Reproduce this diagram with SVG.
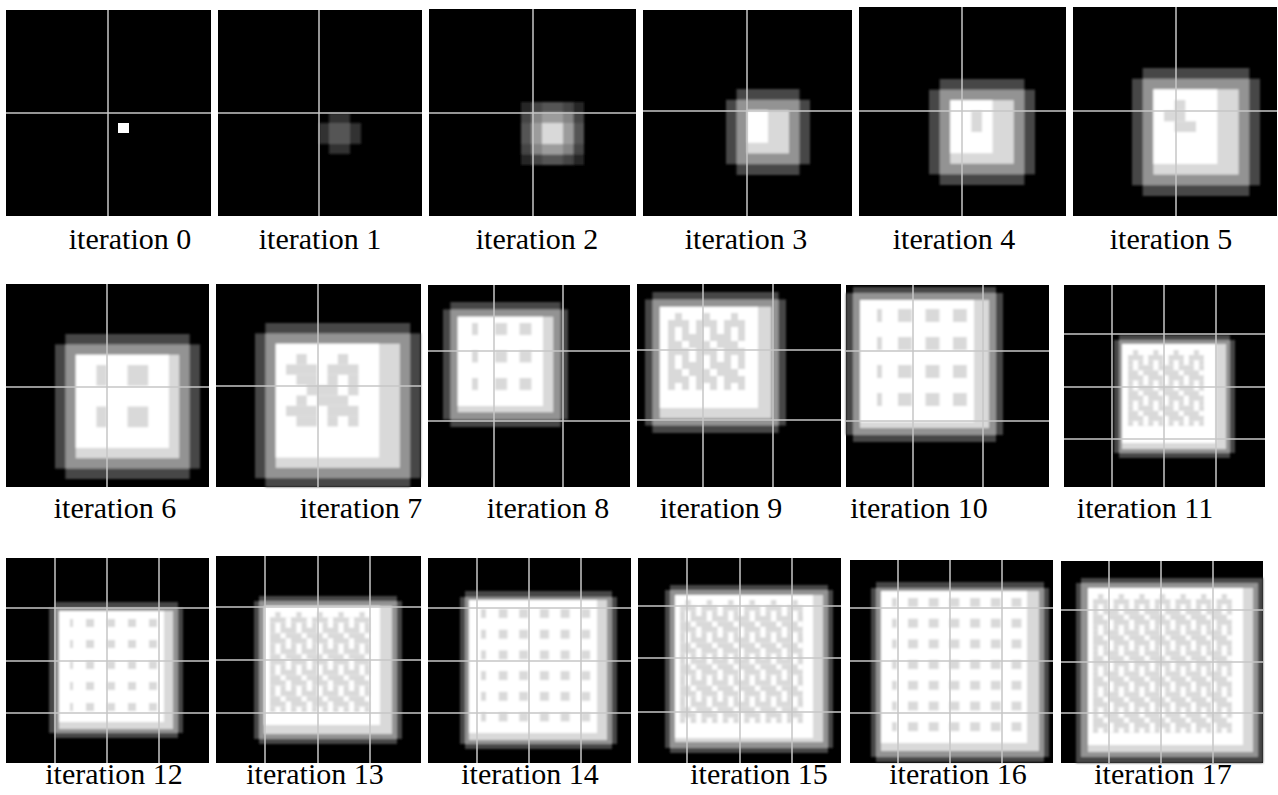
<svg xmlns="http://www.w3.org/2000/svg" width="1278" height="795" viewBox="0 0 1278 795">
<style>
.bg{fill:#000}
.d{fill:#464646}
.m{fill:#939393}
.l{fill:#d9d9d9}
.w{fill:#fff}
.gl{fill:none;stroke:#c6c6c6;stroke-width:1.5}
.lbl{font-size:30px;fill:#000;text-anchor:middle}
</style>
<defs>
<filter id="soft" x="-5%" y="-5%" width="110%" height="110%"><feGaussianBlur stdDeviation="0.8"/></filter>
<g id="weave" fill="#d9d9d9">
<rect x="0" y="0" width="3" height="1"/>
<rect x="0" y="1" width="1" height="1"/><rect x="2" y="1" width="1" height="1"/>
<rect x="0" y="2" width="1" height="1"/><rect x="2" y="2" width="2" height="1"/>
<rect x="0" y="3" width="2" height="1"/><rect x="3" y="3" width="1" height="1"/>
</g>
<rect id="cap" x="1" y="0" width="1" height="1" fill="#d9d9d9"/>
<pattern id="w9" patternUnits="userSpaceOnUse" width="4" height="4" patternTransform="translate(668 320) scale(7)"><use href="#weave"/></pattern>
<pattern id="c9" patternUnits="userSpaceOnUse" width="4" height="1" patternTransform="translate(668 313) scale(7)"><use href="#cap"/></pattern>
<pattern id="w11" patternUnits="userSpaceOnUse" width="4" height="4" patternTransform="translate(1128 355.07) scale(5.07)"><use href="#weave"/></pattern>
<pattern id="c11" patternUnits="userSpaceOnUse" width="4" height="1" patternTransform="translate(1128 350) scale(5.07)"><use href="#cap"/></pattern>
<pattern id="w13" patternUnits="userSpaceOnUse" width="4" height="4" patternTransform="translate(270 617.26) scale(5.26)"><use href="#weave"/></pattern>
<pattern id="c13" patternUnits="userSpaceOnUse" width="4" height="1" patternTransform="translate(270 612) scale(5.26)"><use href="#cap"/></pattern>
<pattern id="w15" patternUnits="userSpaceOnUse" width="4" height="4" patternTransform="translate(680 605.35) scale(5.35)"><use href="#weave"/></pattern>
<pattern id="c15" patternUnits="userSpaceOnUse" width="4" height="1" patternTransform="translate(680 600) scale(5.35)"><use href="#cap"/></pattern>
<pattern id="w17" patternUnits="userSpaceOnUse" width="4" height="4" patternTransform="translate(1093 599.15) scale(5.15)"><use href="#weave"/></pattern>
<pattern id="c17" patternUnits="userSpaceOnUse" width="4" height="1" patternTransform="translate(1093 594) scale(5.15)"><use href="#cap"/></pattern>
<pattern id="g8" patternUnits="userSpaceOnUse" x="495" y="323" width="24.5" height="27.5"><rect width="12" height="12" fill="#d9d9d9"/></pattern>
<pattern id="g10" patternUnits="userSpaceOnUse" x="898" y="309" width="27.5" height="28"><rect width="14" height="13" fill="#d9d9d9"/></pattern>
<pattern id="g12" patternUnits="userSpaceOnUse" x="86" y="619" width="21" height="21"><rect width="8" height="8" fill="#d9d9d9"/></pattern>
<pattern id="g14" patternUnits="userSpaceOnUse" x="498.5" y="609" width="20.7" height="20.7"><rect width="9" height="9" fill="#d9d9d9"/></pattern>
<pattern id="g16" patternUnits="userSpaceOnUse" x="908" y="598" width="20.7" height="20.7"><rect width="10" height="9" fill="#d9d9d9"/></pattern>
</defs>
<rect width="1278" height="795" fill="#fff"/>

<g id="panel-0">
<rect class="bg" x="6" y="10" width="205" height="206"/>
<rect class="w" x="118" y="123" width="11" height="10"/>
<path class="gl" d="M108 10V216M6 113H211"/>
</g>

<g id="panel-1">
<rect class="bg" x="218" y="10" width="204" height="206"/>
<g filter="url(#soft)">
<rect fill="#303030" x="319" y="123" width="42" height="21"/>
<rect fill="#303030" x="329" y="113" width="21" height="41"/>
<rect fill="#555" x="329" y="123" width="21" height="21"/>
</g>
<path class="gl" d="M319 10V216M218 113H422"/>
</g>

<g id="panel-2">
<rect class="bg" x="429" y="9" width="207" height="207"/>
<g filter="url(#soft)">
<rect fill="#262626" x="521" y="102" width="63" height="63"/>
<rect fill="#444" x="531.5" y="102" width="42" height="63"/>
<rect fill="#444" x="521" y="112.5" width="63" height="42"/>
<rect fill="#555" x="542" y="102" width="21" height="63"/>
<rect fill="#555" x="521" y="123" width="63" height="21"/>
<rect fill="#858585" x="531.5" y="112.5" width="42" height="42"/>
<rect fill="#9c9c9c" x="542" y="112.5" width="21" height="42"/>
<rect fill="#9c9c9c" x="531.5" y="123" width="42" height="21"/>
<rect class="l" x="542" y="123" width="21" height="21"/>
</g>
<path class="gl" d="M533 9V216M429 113H636"/>
</g>

<g id="panel-3">
<rect class="bg" x="643" y="10" width="209" height="206"/>
<g filter="url(#soft)">
<rect class="d" x="736.5" y="89" width="63" height="86"/>
<rect class="d" x="726" y="99.75" width="84" height="64.5"/>
<rect class="m" x="736.5" y="99.75" width="63" height="64.5"/>
<rect class="l" x="747" y="110.5" width="42" height="43"/>
<rect class="w" x="747" y="110.5" width="21" height="32.25"/>
</g>
<path class="gl" d="M747 10V216M643 111H852"/>
</g>

<g id="panel-4">
<rect class="bg" x="859" y="7" width="207" height="209"/>
<g filter="url(#soft)">
<rect class="d" x="939.6" y="79" width="84.8" height="106"/>
<rect class="d" x="929" y="89.6" width="106" height="84.8"/>
<rect class="m" x="939.6" y="89.6" width="84.8" height="84.8"/>
<rect class="l" x="950.2" y="100.2" width="63.6" height="63.6"/>
<rect class="w" x="950.2" y="100.2" width="42.4" height="53"/>
<rect class="l" x="971.4" y="110.8" width="10.6" height="21.2"/>
</g>
<path class="gl" d="M962 7V216M859 111H1066"/>
</g>

<g id="panel-5">
<rect class="bg" x="1073" y="7" width="204" height="209"/>
<g filter="url(#soft)">
<rect class="d" x="1142.67" y="68" width="106.67" height="128"/>
<rect class="d" x="1132" y="78.67" width="128" height="106.67"/>
<rect class="m" x="1142.67" y="78.67" width="106.67" height="106.67"/>
<rect class="l" x="1153.33" y="89.33" width="85.33" height="85.33"/>
<rect class="w" x="1153.33" y="89.33" width="64" height="74.67"/>
<rect class="l" x="1174.67" y="100" width="10.67" height="10.67"/>
<rect class="l" x="1164" y="110.67" width="21.33" height="10.67"/>
<rect class="l" x="1174.67" y="121.33" width="21.33" height="10.67"/>
</g>
<path class="gl" d="M1176 7V216M1073 111H1277"/>
</g>

<g id="panel-6">
<rect class="bg" x="6" y="284" width="203" height="203"/>
<g filter="url(#soft)">
<rect class="d" x="65.36" y="334" width="124.29" height="145"/>
<rect class="d" x="55" y="344.36" width="145" height="124.29"/>
<rect class="m" x="65.36" y="344.36" width="124.29" height="124.29"/>
<rect class="l" x="75.71" y="354.71" width="103.57" height="103.57"/>
<rect class="w" x="75.71" y="354.71" width="93.21" height="93.21"/>
<rect class="l" x="96.43" y="365.07" width="10.36" height="20.71"/>
<rect class="l" x="127.5" y="365.07" width="20.71" height="20.71"/>
<rect class="l" x="96.43" y="406.5" width="10.36" height="20.71"/>
<rect class="l" x="127.5" y="406.5" width="20.71" height="20.71"/>
</g>
<path class="gl" d="M107 284V487M6 387H209"/>
</g>

<g id="panel-7">
<rect class="bg" x="216" y="284" width="205" height="203"/>
<g filter="url(#soft)">
<rect class="d" x="265.35" y="323" width="144.9" height="164"/>
<rect class="d" x="255" y="333.35" width="165.6" height="144.9"/>
<rect class="m" x="265.35" y="333.35" width="144.9" height="144.9"/>
<rect class="l" x="275.7" y="343.7" width="124.2" height="124.2"/>
<rect class="w" x="275.7" y="343.7" width="103.5" height="113.85"/>
<g class="l">
<rect x="296.4" y="354.05" width="10.35" height="10.35"/><rect x="337.8" y="354.05" width="10.35" height="10.35"/>
<rect x="286.05" y="364.4" width="31.05" height="10.35"/><rect x="327.45" y="364.4" width="31.05" height="10.35"/>
<rect x="296.4" y="374.75" width="20.7" height="10.35"/><rect x="327.45" y="374.75" width="10.35" height="10.35"/><rect x="348.15" y="374.75" width="10.35" height="10.35"/>
<rect x="306.75" y="385.1" width="31.05" height="10.35"/><rect x="348.15" y="385.1" width="10.35" height="10.35"/>
<rect x="296.4" y="395.45" width="10.35" height="10.35"/><rect x="317.1" y="395.45" width="31.05" height="10.35"/>
<rect x="286.05" y="405.8" width="31.05" height="10.35"/><rect x="327.45" y="405.8" width="31.05" height="10.35"/>
<rect x="296.4" y="416.15" width="20.7" height="10.35"/><rect x="327.45" y="416.15" width="10.35" height="10.35"/><rect x="348.15" y="416.15" width="10.35" height="10.35"/>
</g>
</g>
<path class="gl" d="M318 284V487M216 386H421"/>
</g>

<g id="panel-8">
<rect class="bg" x="428" y="285" width="202" height="202"/>
<g filter="url(#soft)">
<rect class="d" x="450.35" y="302" width="110.3" height="125"/>
<rect class="d" x="443" y="309.35" width="125" height="110.3"/>
<rect class="m" x="450.35" y="309.35" width="110.3" height="110.3"/>
<rect class="l" x="457.7" y="316.7" width="95.6" height="95.6"/>
<rect class="w" x="457.7" y="316.7" width="85.3" height="89.3"/>
<rect fill="url(#g8)" x="472" y="323" width="6" height="69"/>
<rect fill="url(#g8)" x="495" y="323" width="37" height="69"/>
</g>
<path class="gl" d="M494 285V487M563 285V487M428 351H630M428 421H630"/>
</g>

<g id="panel-9">
<rect class="bg" x="637" y="284" width="204" height="203"/>
<g filter="url(#soft)">
<rect class="d" x="652.4" y="292" width="126.2" height="141"/>
<rect class="d" x="645" y="299.4" width="141" height="126.2"/>
<rect class="m" x="652.4" y="299.4" width="126.2" height="126.2"/>
<rect class="l" x="659.8" y="306.8" width="111.4" height="111.4"/>
<rect class="w" x="659.8" y="306.8" width="98.2" height="101.2"/>
<rect fill="url(#c9)" x="668" y="313" width="77" height="7"/>
<rect fill="url(#w9)" x="668" y="320" width="77" height="70"/>
</g>
<path class="gl" d="M703 284V487M773 284V487M637 350H841M637 420H841"/>
</g>

<g id="panel-10">
<rect class="bg" x="846" y="285" width="203" height="202"/>
<g filter="url(#soft)">
<rect class="d" x="846" y="293" width="157" height="142"/>
<rect class="d" x="853" y="287" width="143" height="155"/>
<rect class="m" x="853" y="293" width="143" height="142"/>
<rect class="l" x="860" y="300" width="129" height="128"/>
<rect class="w" x="860" y="300" width="114" height="122"/>
<rect fill="url(#g10)" x="877" y="309" width="5" height="97"/>
<rect fill="url(#g10)" x="898" y="309" width="69" height="97"/>
</g>
<path class="gl" d="M913 285V487M983 285V487M846 351H1049M846 421H1049"/>
</g>

<g id="panel-11">
<rect class="bg" x="1064" y="285" width="201" height="202"/>
<g filter="url(#soft)">
<rect class="d" x="1119" y="335" width="111" height="123"/>
<rect class="d" x="1114" y="340" width="121" height="113"/>
<rect class="m" x="1119" y="340" width="111" height="113"/>
<rect class="l" x="1122" y="344" width="104" height="105"/>
<rect class="w" x="1122" y="344" width="94" height="99"/>
<rect fill="url(#c11)" x="1128" y="350" width="76" height="5.07"/>
<rect fill="url(#w11)" x="1128" y="355.07" width="76" height="71"/>
</g>
<path class="gl" d="M1112 285V487M1164 285V487M1216 285V487M1064 334H1265M1064 387H1265M1064 439H1265"/>
</g>

<g id="panel-12">
<rect class="bg" x="6" y="558" width="203" height="205"/>
<g filter="url(#soft)">
<rect class="d" x="55" y="602" width="123" height="136"/>
<rect class="d" x="49" y="608" width="134" height="125"/>
<rect class="m" x="55" y="608" width="123" height="125"/>
<rect class="l" x="59" y="611" width="114" height="118"/>
<rect class="w" x="59" y="611" width="105" height="111"/>
<rect fill="url(#g12)" x="70" y="619" width="4" height="92"/>
<rect fill="url(#g12)" x="86" y="619" width="71" height="92"/>
</g>
<path class="gl" d="M55 558V763M107 558V763M159 558V763M6 608H209M6 661H209M6 713H209"/>
</g>

<g id="panel-13">
<rect class="bg" x="216" y="556" width="205" height="207"/>
<g filter="url(#soft)">
<rect class="d" x="259" y="596" width="138" height="148"/>
<rect class="d" x="254" y="601" width="148" height="138"/>
<rect class="m" x="259" y="601" width="138" height="138"/>
<rect class="l" x="264" y="606" width="128" height="128"/>
<rect class="w" x="264" y="606" width="116" height="119"/>
<rect fill="url(#c13)" x="270" y="612" width="100" height="5.26"/>
<rect fill="url(#w13)" x="270" y="617.26" width="100" height="94.7"/>
</g>
<path class="gl" d="M265 556V763M318 556V763M370 556V763M216 607H421M216 660H421M216 713H421"/>
</g>

<g id="panel-14">
<rect class="bg" x="428" y="558" width="203" height="205"/>
<g filter="url(#soft)">
<rect class="d" x="465" y="591" width="147" height="158"/>
<rect class="d" x="460" y="597" width="157" height="147"/>
<rect class="m" x="465" y="597" width="147" height="147"/>
<rect class="l" x="469" y="600" width="138" height="140"/>
<rect class="w" x="469" y="600" width="128" height="133"/>
<rect fill="url(#g14)" x="481" y="609" width="5" height="113"/>
<rect fill="url(#g14)" x="498.5" y="609" width="92" height="113"/>
</g>
<path class="gl" d="M477 558V763M529 558V763M581 558V763M428 608H631M428 661H631M428 713H631"/>
</g>

<g id="panel-15">
<rect class="bg" x="638" y="558" width="203" height="205"/>
<g filter="url(#soft)">
<rect class="d" x="670" y="585" width="158" height="168"/>
<rect class="d" x="665" y="590" width="168" height="158"/>
<rect class="m" x="670" y="590" width="158" height="158"/>
<rect class="l" x="675" y="595" width="148" height="147"/>
<rect class="w" x="675" y="595" width="138" height="143"/>
<rect fill="url(#c15)" x="680" y="600" width="123" height="5.35"/>
<rect fill="url(#w15)" x="680" y="605.35" width="123" height="117.7"/>
</g>
<path class="gl" d="M687 558V763M740 558V763M792 558V763M638 606H841M638 658H841M638 712H841"/>
</g>

<g id="panel-16">
<rect class="bg" x="850" y="560" width="203" height="203"/>
<g filter="url(#soft)">
<rect class="d" x="876" y="582" width="168" height="180"/>
<rect class="d" x="871" y="588" width="178" height="169"/>
<rect class="m" x="876" y="588" width="168" height="169"/>
<rect class="l" x="881" y="591" width="158" height="160"/>
<rect class="w" x="881" y="591" width="146" height="152"/>
<rect fill="url(#g16)" x="892" y="598" width="5" height="135"/>
<rect fill="url(#g16)" x="908" y="598" width="114" height="135"/>
</g>
<path class="gl" d="M898 560V763M950 560V763M1002 560V763M850 608H1053M850 661H1053M850 713H1053"/>
</g>

<g id="panel-17">
<rect class="bg" x="1061" y="561" width="202" height="202"/>
<g filter="url(#soft)">
<rect class="d" x="1076" y="583" width="187" height="180"/>
<rect class="d" x="1081" y="578" width="182" height="185"/>
<rect class="m" x="1081" y="583" width="177" height="174"/>
<rect class="l" x="1088" y="588" width="165" height="164"/>
<rect class="w" x="1088" y="588" width="155" height="157"/>
<rect fill="url(#c17)" x="1093" y="594" width="139" height="5.15"/>
<rect fill="url(#w17)" x="1093" y="599.15" width="139" height="133.9"/>
</g>
<path class="gl" d="M1109 561V763M1161 561V763M1213 561V763M1061 610H1263M1061 662H1263M1061 713H1263"/>
</g>

<g id="labels">
<text class="lbl" font-family="Times New Roman" x="130" y="249">iteration 0</text>
<text class="lbl" font-family="Times New Roman" x="320" y="249">iteration 1</text>
<text class="lbl" font-family="Times New Roman" x="537" y="249">iteration 2</text>
<text class="lbl" font-family="Times New Roman" x="746" y="249">iteration 3</text>
<text class="lbl" font-family="Times New Roman" x="954" y="249">iteration 4</text>
<text class="lbl" font-family="Times New Roman" x="1171" y="249">iteration 5</text>
<text class="lbl" font-family="Times New Roman" x="115" y="518">iteration 6</text>
<text class="lbl" font-family="Times New Roman" x="361" y="518">iteration 7</text>
<text class="lbl" font-family="Times New Roman" x="548" y="518">iteration 8</text>
<text class="lbl" font-family="Times New Roman" x="721" y="518">iteration 9</text>
<text class="lbl" font-family="Times New Roman" x="919" y="518">iteration 10</text>
<text class="lbl" font-family="Times New Roman" x="1145" y="518">iteration 11</text>
<text class="lbl" font-family="Liberation Serif" x="114" y="784">iteration 12</text>
<text class="lbl" font-family="Liberation Serif" x="315" y="784">iteration 13</text>
<text class="lbl" font-family="Liberation Serif" x="530" y="784">iteration 14</text>
<text class="lbl" font-family="Liberation Serif" x="759" y="784">iteration 15</text>
<text class="lbl" font-family="Liberation Serif" x="958" y="784">iteration 16</text>
<text class="lbl" font-family="Liberation Serif" x="1163" y="784">iteration 17</text>
</g>
</svg>
